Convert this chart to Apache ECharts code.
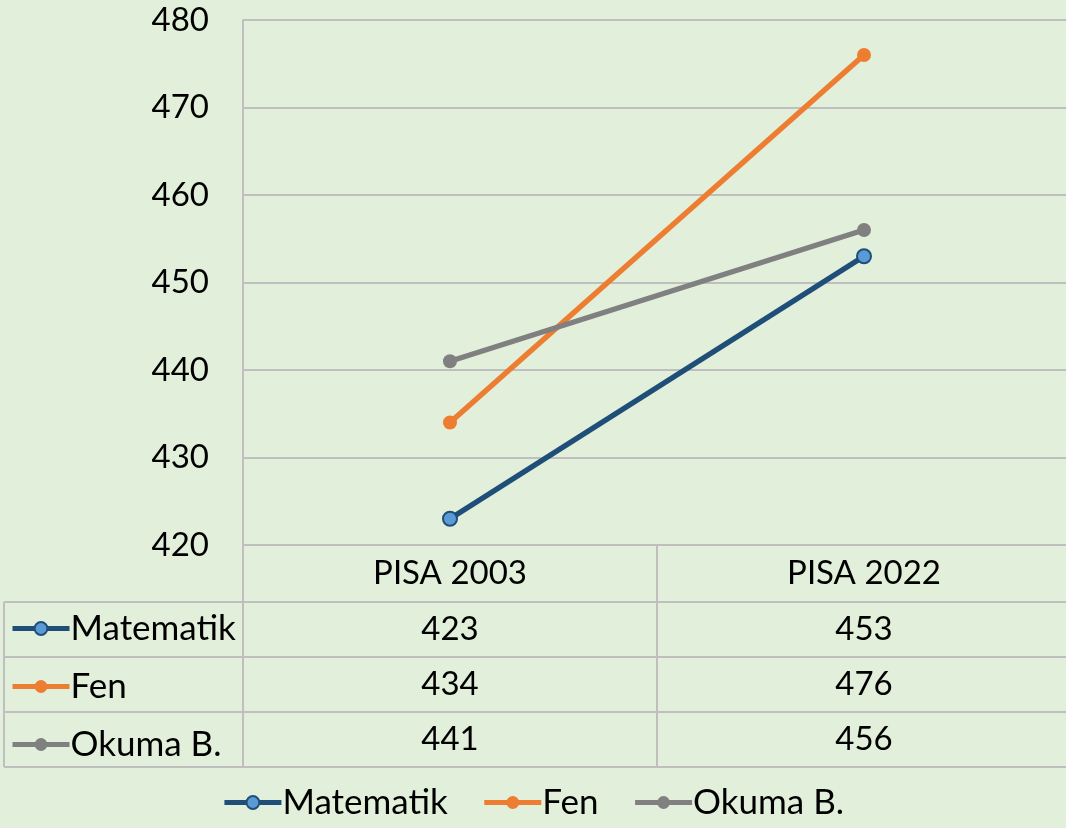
<!DOCTYPE html>
<html>
<head>
<meta charset="utf-8">
<script src="https://cdn.jsdelivr.net/npm/echarts@6/dist/echarts.min.js"></script>
<style>
  html, body { margin: 0; padding: 0; background: #e2efda; }
  #main { width: 1066px; height: 828px; }
</style>
</head>
<body>
<div id="main"></div>
<script>
var categories = ['PISA 2003', 'PISA 2022']
var seriesNames = ['Matematik', 'Fen', 'Okuma B.']
var matematik = [423, 453]
var fen = [434, 476]
var okuma = [441, 456]
var yTicks = [420, 430, 440, 450, 460, 470, 480]

var allValues = [matematik, fen, okuma]
var font = 'Lato'
var fs = 33
var gridColor = '#bfbfbf'

// data table rows: one hidden-line x axis per row, labels read from the arrays
var rowMargins = [84, 139, 194]
var xAxes = [{
  type: 'category',
  data: categories,
  position: 'bottom',
  axisLine: { show: true, lineStyle: { color: gridColor, width: 2 } },
  axisTick: { show: true, length: 222, lineStyle: { color: gridColor, width: 2 } },
  axisLabel: { color: '#000', fontFamily: font, fontSize: fs, margin: 28, verticalAlign: 'middle' }
}]
allValues.forEach(function (vals, i) {
  xAxes.push({
    type: 'category',
    data: categories,
    position: 'bottom',
    gridIndex: 0,
    axisLine: { show: false },
    axisTick: { show: false },
    axisLabel: {
      color: '#000', fontFamily: font, fontSize: fs,
      margin: rowMargins[i], verticalAlign: 'middle',
      formatter: function (v, idx) { return String(vals[idx]) }
    }
  })
})

var tableLines = [602, 657, 712, 767].map(function (y) {
  return {
    type: 'line',
    shape: { x1: 4, y1: y, x2: 1066, y2: y },
    style: { stroke: gridColor, lineWidth: 2 }
  }
})
tableLines.push({
  type: 'line',
  shape: { x1: 4, y1: 602, x2: 4, y2: 767 },
  style: { stroke: gridColor, lineWidth: 2 }
})

var legendText = { fontFamily: font, fontSize: 35, color: '#000', lineHeight: 30, padding: [0, 0, 0, -4] }

var option = {
  backgroundColor: '#e2efda',
  animation: false,
  textStyle: { fontFamily: font },
  grid: { left: 243, top: 20, width: 828, bottom: 283, outerBoundsMode: 'none' },
  legend: [{
    data: seriesNames,
    bottom: 3,
    left: 'center',
    itemWidth: 57,
    itemHeight: 16,
    itemGap: 34,
    lineStyle: { width: 5 },
    textStyle: legendText
  }, {
    data: seriesNames,
    orient: 'vertical',
    left: 5,
    top: 606,
    itemWidth: 57,
    itemHeight: 16,
    itemGap: 23,
    selectedMode: false,
    lineStyle: { width: 5 },
    textStyle: legendText
  }],
  xAxis: xAxes,
  yAxis: {
    type: 'value',
    min: yTicks[0],
    max: yTicks[yTicks.length - 1],
    interval: 10,
    axisLine: { show: true, lineStyle: { color: gridColor, width: 2 } },
    axisTick: { show: false },
    axisLabel: { color: '#000', fontFamily: font, fontSize: fs, margin: 34 },
    splitLine: { lineStyle: { color: gridColor, width: 2 } }
  },
  graphic: tableLines,
  series: [{
    name: seriesNames[0],
    type: 'line',
    data: matematik,
    symbol: 'circle',
    symbolSize: 14,
    lineStyle: { color: '#1f4e79', width: 5.5 },
    itemStyle: { color: '#5b9bd5', borderColor: '#1f4e79', borderWidth: 2 }
  }, {
    name: seriesNames[1],
    type: 'line',
    data: fen,
    symbol: 'circle',
    symbolSize: 14,
    lineStyle: { color: '#ed7d31', width: 5.5 },
    itemStyle: { color: '#ed7d31' }
  }, {
    name: seriesNames[2],
    type: 'line',
    data: okuma,
    symbol: 'circle',
    symbolSize: 14,
    lineStyle: { color: '#808080', width: 5.5 },
    itemStyle: { color: '#808080' }
  }]
}

var myChart = echarts.init(document.getElementById('main'))
myChart.setOption(option)
</script>
</body>
</html>
